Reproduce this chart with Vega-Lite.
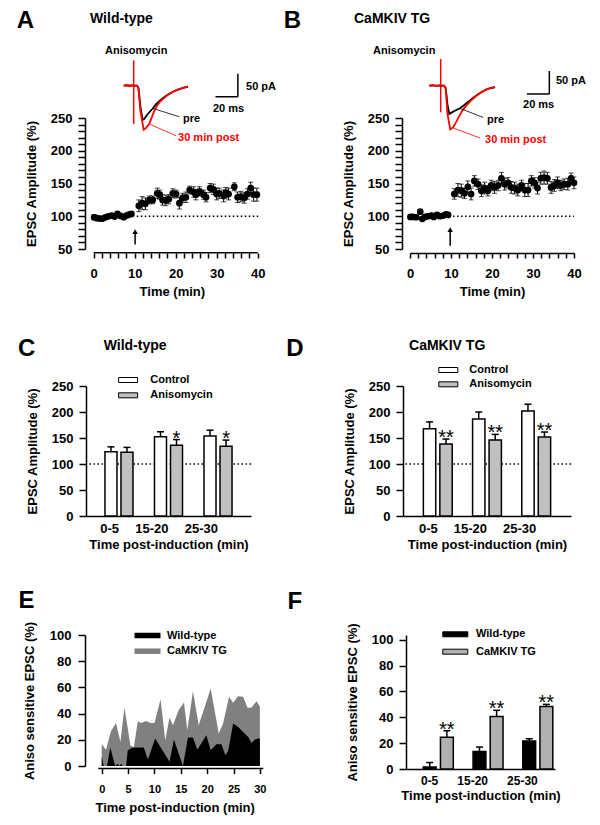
{
  "$schema": "https://vega.github.io/schema/vega-lite/v6.json",
  "padding": {"left": 16, "top": 8, "right": 0, "bottom": 0},
  "config": {
    "font": "Liberation Sans",
    "view": {"stroke": null},
    "axis": {"grid": false, "domainColor": "black", "domainWidth": 1.5, "tickColor": "black", "tickWidth": 1.5, "labelColor": "black", "labelFontWeight": "bold", "labelFontSize": 13, "titleFontWeight": "bold", "titleFontSize": 13, "titleColor": "black", "labelFont": "Liberation Sans", "titleFont": "Liberation Sans", "labelOverlap": false, "labelFlush": false, "labelBound": false},
    "legend": {"labelFont": "Liberation Sans", "labelFontWeight": "bold", "labelFontSize": 11, "labelColor": "black", "padding": 0},
    "text": {"font": "Liberation Sans", "color": "black"}
  },
  "datasets": {
    "tcWT": [
      {"t": 0.1, "m": 98.5, "s": 4}, {"t": 0.8, "m": 97, "s": 3}, {"t": 1.5, "m": 96.5, "s": 3}, {"t": 2.2, "m": 96.5, "s": 3}, {"t": 2.9, "m": 98.5, "s": 3}, {"t": 3.6, "m": 100, "s": 3}, {"t": 4.4, "m": 101, "s": 3}, {"t": 5.1, "m": 99.5, "s": 3}, {"t": 5.8, "m": 103.5, "s": 3}, {"t": 6.6, "m": 100.5, "s": 3}, {"t": 7.3, "m": 98.5, "s": 3}, {"t": 8.0, "m": 101, "s": 3}, {"t": 8.6, "m": 102.5, "s": 3}, {"t": 9.2, "m": 103.5, "s": 3},
      {"t": 11.0, "m": 116, "s": 9}, {"t": 11.8, "m": 120, "s": 10}, {"t": 12.6, "m": 119, "s": 9}, {"t": 13.6, "m": 125, "s": 6}, {"t": 14.4, "m": 125, "s": 6}, {"t": 15.5, "m": 135, "s": 8}, {"t": 16.1, "m": 133, "s": 7}, {"t": 16.8, "m": 125, "s": 8}, {"t": 17.6, "m": 124, "s": 8}, {"t": 18.3, "m": 126, "s": 7}, {"t": 19.3, "m": 135, "s": 7}, {"t": 20.1, "m": 134, "s": 6}, {"t": 20.9, "m": 120, "s": 9}, {"t": 21.7, "m": 128, "s": 7}, {"t": 22.5, "m": 129, "s": 8}, {"t": 23.4, "m": 140, "s": 6}, {"t": 24.4, "m": 137, "s": 8}, {"t": 24.9, "m": 133, "s": 8}, {"t": 25.8, "m": 138, "s": 7}, {"t": 26.8, "m": 133, "s": 7}, {"t": 27.4, "m": 129, "s": 7}, {"t": 28.4, "m": 143, "s": 7}, {"t": 29.2, "m": 141, "s": 8}, {"t": 30.0, "m": 134, "s": 9}, {"t": 30.6, "m": 135, "s": 8}, {"t": 31.7, "m": 131, "s": 9}, {"t": 32.2, "m": 136, "s": 8}, {"t": 32.9, "m": 134, "s": 9}, {"t": 34.3, "m": 145, "s": 6}, {"t": 35.1, "m": 129, "s": 8}, {"t": 35.9, "m": 130, "s": 8}, {"t": 36.7, "m": 128, "s": 8}, {"t": 37.5, "m": 134, "s": 8}, {"t": 38.3, "m": 143, "s": 9}, {"t": 39.0, "m": 133, "s": 10}, {"t": 39.8, "m": 133, "s": 10}
    ],
    "tcTG": [
      {"t": 0.1, "m": 99, "s": 3}, {"t": 0.7, "m": 99, "s": 3}, {"t": 1.5, "m": 98.5, "s": 3}, {"t": 2.5, "m": 107, "s": 3}, {"t": 3.0, "m": 96, "s": 3}, {"t": 3.7, "m": 99, "s": 3}, {"t": 4.4, "m": 100, "s": 3}, {"t": 5.2, "m": 101, "s": 3}, {"t": 5.8, "m": 99, "s": 3}, {"t": 6.6, "m": 102, "s": 3}, {"t": 7.3, "m": 100, "s": 3}, {"t": 8.1, "m": 101, "s": 3}, {"t": 8.8, "m": 103, "s": 3}, {"t": 9.3, "m": 102, "s": 3},
      {"t": 10.8, "m": 134, "s": 8}, {"t": 11.7, "m": 140, "s": 10}, {"t": 12.5, "m": 139, "s": 10}, {"t": 13.3, "m": 135, "s": 8}, {"t": 14.1, "m": 145, "s": 9}, {"t": 14.9, "m": 134, "s": 9}, {"t": 15.7, "m": 154, "s": 8}, {"t": 16.6, "m": 149, "s": 8}, {"t": 17.4, "m": 139, "s": 9}, {"t": 18.2, "m": 143, "s": 9}, {"t": 19.0, "m": 139, "s": 8}, {"t": 19.8, "m": 147, "s": 8}, {"t": 20.6, "m": 144, "s": 9}, {"t": 21.5, "m": 147, "s": 8}, {"t": 22.3, "m": 158, "s": 9}, {"t": 23.1, "m": 149, "s": 9}, {"t": 23.9, "m": 151, "s": 8}, {"t": 24.7, "m": 144, "s": 9}, {"t": 25.5, "m": 143, "s": 9}, {"t": 26.3, "m": 140, "s": 9}, {"t": 27.2, "m": 147, "s": 8}, {"t": 28.0, "m": 140, "s": 10}, {"t": 28.8, "m": 140, "s": 10}, {"t": 29.6, "m": 154, "s": 8}, {"t": 30.4, "m": 151, "s": 8}, {"t": 31.1, "m": 143, "s": 9}, {"t": 31.9, "m": 158, "s": 9}, {"t": 32.7, "m": 159, "s": 10}, {"t": 33.5, "m": 158, "s": 9}, {"t": 34.4, "m": 144, "s": 9}, {"t": 35.2, "m": 147, "s": 9}, {"t": 36.0, "m": 151, "s": 9}, {"t": 36.8, "m": 147, "s": 8}, {"t": 37.6, "m": 149, "s": 8}, {"t": 38.5, "m": 149, "s": 9}, {"t": 39.3, "m": 158, "s": 8}, {"t": 40.0, "m": 151, "s": 9}
    ],
    "trWT": [
      {"ms": -8.9, "pA": 0, "rec": "pre"}, {"ms": -4, "pA": 0.5, "rec": "pre"}, {"ms": 0, "pA": 0, "rec": "pre"}, {"ms": 3, "pA": 0, "rec": "pre"}, {"ms": 4.2, "pA": -4, "rec": "pre"}, {"ms": 6, "pA": -45, "rec": "pre"}, {"ms": 8, "pA": -74.6, "rec": "pre"}, {"ms": 9.5, "pA": -72, "rec": "pre"}, {"ms": 12, "pA": -63, "rec": "pre"}, {"ms": 15, "pA": -55, "rec": "pre"}, {"ms": 17, "pA": -49.5, "rec": "pre"}, {"ms": 20, "pA": -40, "rec": "pre"}, {"ms": 23, "pA": -33, "rec": "pre"}, {"ms": 26, "pA": -27, "rec": "pre"}, {"ms": 30, "pA": -20, "rec": "pre"}, {"ms": 35, "pA": -13, "rec": "pre"}, {"ms": 40, "pA": -8, "rec": "pre"}, {"ms": 45, "pA": -4, "rec": "pre"}, {"ms": 48.5, "pA": -2, "rec": "pre"},
      {"ms": -8.9, "pA": 0, "rec": "post"}, {"ms": -6, "pA": 1.5, "rec": "post"}, {"ms": -4, "pA": -1, "rec": "post"}, {"ms": -2, "pA": 1, "rec": "post"}, {"ms": 0, "pA": 0, "rec": "post"}, {"ms": 3, "pA": 0, "rec": "post"}, {"ms": 4.2, "pA": -5, "rec": "post"}, {"ms": 6, "pA": -55, "rec": "post"}, {"ms": 8.9, "pA": -95.7, "rec": "post"}, {"ms": 10.5, "pA": -93, "rec": "post"}, {"ms": 13.9, "pA": -83, "rec": "post"}, {"ms": 16, "pA": -70, "rec": "post"}, {"ms": 18, "pA": -57, "rec": "post"}, {"ms": 20, "pA": -47, "rec": "post"}, {"ms": 23, "pA": -36, "rec": "post"}, {"ms": 26, "pA": -29, "rec": "post"}, {"ms": 30, "pA": -21, "rec": "post"}, {"ms": 35, "pA": -13, "rec": "post"}, {"ms": 40, "pA": -8, "rec": "post"}, {"ms": 45, "pA": -4, "rec": "post"}, {"ms": 48.5, "pA": -2, "rec": "post"}
    ],
    "trTG": [
      {"ms": -10.2, "pA": 0, "rec": "pre"}, {"ms": -5, "pA": 0, "rec": "pre"}, {"ms": 0, "pA": 0, "rec": "pre"}, {"ms": 3, "pA": 0, "rec": "pre"}, {"ms": 4.5, "pA": -5, "rec": "pre"}, {"ms": 6, "pA": -40, "rec": "pre"}, {"ms": 7.7, "pA": -61.5, "rec": "pre"}, {"ms": 10, "pA": -58, "rec": "pre"}, {"ms": 13, "pA": -54, "rec": "pre"}, {"ms": 17.2, "pA": -49, "rec": "pre"}, {"ms": 21, "pA": -42, "rec": "pre"}, {"ms": 25, "pA": -34, "rec": "pre"}, {"ms": 29, "pA": -26, "rec": "pre"}, {"ms": 33, "pA": -19, "rec": "pre"}, {"ms": 37, "pA": -13, "rec": "pre"}, {"ms": 41, "pA": -8, "rec": "pre"}, {"ms": 45, "pA": -5, "rec": "pre"}, {"ms": 48.5, "pA": -3, "rec": "pre"},
      {"ms": -10.2, "pA": 0, "rec": "post"}, {"ms": -7, "pA": 1.5, "rec": "post"}, {"ms": -4, "pA": -1, "rec": "post"}, {"ms": -1, "pA": 1, "rec": "post"}, {"ms": 0, "pA": 0, "rec": "post"}, {"ms": 3, "pA": 0, "rec": "post"}, {"ms": 4.5, "pA": -6, "rec": "post"}, {"ms": 6, "pA": -60, "rec": "post"}, {"ms": 8.5, "pA": -95, "rec": "post"}, {"ms": 11.25, "pA": -90, "rec": "post"}, {"ms": 14, "pA": -78, "rec": "post"}, {"ms": 17, "pA": -64, "rec": "post"}, {"ms": 20, "pA": -52, "rec": "post"}, {"ms": 24, "pA": -40, "rec": "post"}, {"ms": 28, "pA": -30, "rec": "post"}, {"ms": 32, "pA": -22, "rec": "post"}, {"ms": 36, "pA": -15, "rec": "post"}, {"ms": 40, "pA": -9, "rec": "post"}, {"ms": 44, "pA": -5, "rec": "post"}, {"ms": 48.5, "pA": -3, "rec": "post"}
    ],
    "barsWT": [
      {"period": "0-5", "cond": "Control", "mean": 123.6, "err": 133, "sig": ""},
      {"period": "0-5", "cond": "Anisomycin", "mean": 122.4, "err": 132, "sig": ""},
      {"period": "15-20", "cond": "Control", "mean": 152.5, "err": 162, "sig": ""},
      {"period": "15-20", "cond": "Anisomycin", "mean": 136, "err": 147, "sig": "*"},
      {"period": "25-30", "cond": "Control", "mean": 154, "err": 165, "sig": ""},
      {"period": "25-30", "cond": "Anisomycin", "mean": 134, "err": 146, "sig": "*"}
    ],
    "barsTG": [
      {"period": "0-5", "cond": "Control", "mean": 168, "err": 181, "sig": ""},
      {"period": "0-5", "cond": "Anisomycin", "mean": 138.5, "err": 148, "sig": "**"},
      {"period": "15-20", "cond": "Control", "mean": 186.5, "err": 200, "sig": ""},
      {"period": "15-20", "cond": "Anisomycin", "mean": 146, "err": 157, "sig": "**"},
      {"period": "25-30", "cond": "Control", "mean": 202, "err": 215, "sig": ""},
      {"period": "25-30", "cond": "Anisomycin", "mean": 152, "err": 161.5, "sig": "**"}
    ],
    "anisoTC": [
      {"t": 0, "v": 16.6, "geno": "CaMKIV TG"}, {"t": 0.82, "v": 12.5, "geno": "CaMKIV TG"}, {"t": 1.77, "v": 26.8, "geno": "CaMKIV TG"}, {"t": 2.72, "v": 32.9, "geno": "CaMKIV TG"}, {"t": 3.55, "v": 18.4, "geno": "CaMKIV TG"}, {"t": 4.31, "v": 44.7, "geno": "CaMKIV TG"}, {"t": 5.45, "v": 15.8, "geno": "CaMKIV TG"}, {"t": 6.08, "v": 14.2, "geno": "CaMKIV TG"}, {"t": 6.85, "v": 34.2, "geno": "CaMKIV TG"}, {"t": 7.48, "v": 32.9, "geno": "CaMKIV TG"}, {"t": 8.43, "v": 34.4, "geno": "CaMKIV TG"}, {"t": 9.26, "v": 32.9, "geno": "CaMKIV TG"}, {"t": 10.02, "v": 32.9, "geno": "CaMKIV TG"}, {"t": 11.16, "v": 51, "geno": "CaMKIV TG"}, {"t": 12.05, "v": 19.7, "geno": "CaMKIV TG"}, {"t": 12.87, "v": 37, "geno": "CaMKIV TG"}, {"t": 13.51, "v": 31.1, "geno": "CaMKIV TG"}, {"t": 14.59, "v": 42.6, "geno": "CaMKIV TG"}, {"t": 15.6, "v": 48.5, "geno": "CaMKIV TG"}, {"t": 16.24, "v": 27.3, "geno": "CaMKIV TG"}, {"t": 17.31, "v": 57.2, "geno": "CaMKIV TG"}, {"t": 18.39, "v": 31.1, "geno": "CaMKIV TG"}, {"t": 19.22, "v": 41.3, "geno": "CaMKIV TG"}, {"t": 20.67, "v": 59.2, "geno": "CaMKIV TG"}, {"t": 22.2, "v": 24.8, "geno": "CaMKIV TG"}, {"t": 23.02, "v": 32.4, "geno": "CaMKIV TG"}, {"t": 24.16, "v": 52.8, "geno": "CaMKIV TG"}, {"t": 24.93, "v": 48.2, "geno": "CaMKIV TG"}, {"t": 25.88, "v": 53.3, "geno": "CaMKIV TG"}, {"t": 26.83, "v": 52.8, "geno": "CaMKIV TG"}, {"t": 27.66, "v": 44.4, "geno": "CaMKIV TG"}, {"t": 28.42, "v": 44.6, "geno": "CaMKIV TG"}, {"t": 29.37, "v": 49.5, "geno": "CaMKIV TG"}, {"t": 30, "v": 45.2, "geno": "CaMKIV TG"},
      {"t": 0, "v": 7.4, "geno": "Wild-type"}, {"t": 0.4, "v": 0, "geno": "Wild-type"}, {"t": 1.0, "v": 0, "geno": "Wild-type"}, {"t": 1.64, "v": 14.1, "geno": "Wild-type"}, {"t": 2.53, "v": 0, "geno": "Wild-type"}, {"t": 3.04, "v": 1.8, "geno": "Wild-type"}, {"t": 3.36, "v": 0, "geno": "Wild-type"}, {"t": 3.67, "v": 1.8, "geno": "Wild-type"}, {"t": 3.99, "v": 0, "geno": "Wild-type"}, {"t": 4.62, "v": 0, "geno": "Wild-type"}, {"t": 4.94, "v": 12, "geno": "Wild-type"}, {"t": 5.89, "v": 14.1, "geno": "Wild-type"}, {"t": 7.98, "v": 14.1, "geno": "Wild-type"}, {"t": 8.75, "v": 4.9, "geno": "Wild-type"}, {"t": 10.14, "v": 21, "geno": "Wild-type"}, {"t": 12.87, "v": 3.3, "geno": "Wild-type"}, {"t": 13.7, "v": 20.2, "geno": "Wild-type"}, {"t": 15.41, "v": 0, "geno": "Wild-type"}, {"t": 16.36, "v": 21.7, "geno": "Wild-type"}, {"t": 17.31, "v": 21.7, "geno": "Wild-type"}, {"t": 18.14, "v": 12.5, "geno": "Wild-type"}, {"t": 19.85, "v": 23.5, "geno": "Wild-type"}, {"t": 20.67, "v": 12, "geno": "Wild-type"}, {"t": 21.75, "v": 16.6, "geno": "Wild-type"}, {"t": 22.71, "v": 16.6, "geno": "Wild-type"}, {"t": 23.47, "v": 8.2, "geno": "Wild-type"}, {"t": 23.98, "v": 11.5, "geno": "Wild-type"}, {"t": 24.93, "v": 32.4, "geno": "Wild-type"}, {"t": 25.88, "v": 29.8, "geno": "Wild-type"}, {"t": 26.83, "v": 26, "geno": "Wild-type"}, {"t": 27.78, "v": 22.2, "geno": "Wild-type"}, {"t": 28.42, "v": 17.6, "geno": "Wild-type"}, {"t": 29.05, "v": 20.2, "geno": "Wild-type"}, {"t": 29.69, "v": 21, "geno": "Wild-type"}, {"t": 30, "v": 21, "geno": "Wild-type"}
    ],
    "anisoBars": [
      {"period": "0-5", "geno": "Wild-type", "mean": 1.5, "err": 5, "sig": ""},
      {"period": "0-5", "geno": "CaMKIV TG", "mean": 24.5, "err": 29.6, "sig": "**"},
      {"period": "15-20", "geno": "Wild-type", "mean": 13.6, "err": 17, "sig": ""},
      {"period": "15-20", "geno": "CaMKIV TG", "mean": 40.7, "err": 45.4, "sig": "**"},
      {"period": "25-30", "geno": "Wild-type", "mean": 21.6, "err": 23.4, "sig": ""},
      {"period": "25-30", "geno": "CaMKIV TG", "mean": 48.4, "err": 50, "sig": "**"}
    ]
  },
  "columns": 1,
  "align": "none",
  "spacing": 38,
  "resolve": {"scale": {"fill": "independent", "color": "independent", "xOffset": "independent"}, "legend": {"fill": "independent", "color": "independent"}},
  "concat": [
    {
      "columns": 2, "align": "none", "spacing": 7,
      "resolve": {"scale": {"fill": "independent", "color": "independent", "xOffset": "independent"}, "legend": {"fill": "independent", "color": "independent"}},
      "concat": [
        {
          "width": 171.7, "height": 131,
          "resolve": {"scale": {"x": "independent", "y": "independent"}},
          "layer": [
            {
              "layer": [
                {"data": {"values": [{"t1": 10.5, "t2": 40.5, "v": 100}]}, "mark": {"type": "rule", "strokeDash": [1.5, 2.5], "strokeWidth": 1.3, "color": "black"},
                 "encoding": {
                   "x": {"field": "t1", "type": "quantitative", "title": "Time (min)", "scale": {"domain": [-1.878, 40], "nice": false, "zero": false},
                         "axis": {"title": "Time (min)", "domain": false, "format": "d", "values": [0,2,4,6,8,10,12,14,16,18,20,22,24,26,28,30,32,34,36,38,40], "tickCount": 100, "labelExpr": "datum.value % 10 === 0 ? datum.label : ''", "tickSize": 5, "labelPadding": 9, "offset": 4, "titlePadding": 5, "labelFlush": false, "labelOverlap": false, "labelFontSize": 13}},
                   "x2": {"field": "t2"},
                   "y": {"field": "v", "type": "quantitative", "title": "EPSC Amplitude (%)", "scale": {"domain": [50, 250], "nice": false, "zero": false},
                         "axis": {"title": "EPSC Amplitude (%)", "format": "d", "values": [50,60,70,80,90,100,110,120,130,140,150,160,170,180,190,200,210,220,230,240,250], "tickCount": 100, "labelExpr": "datum.value % 50 === 0 ? datum.label : ''", "tickSize": 7, "labelPadding": 6, "offset": 1, "titlePadding": 12, "labelOverlap": false, "labelFontSize": 13}}
                 }},
                {"data": {"values": [{"t1": 0, "t2": 40, "v": 44.2}]}, "mark": {"type": "rule", "strokeWidth": 1.5, "color": "black"},
                 "encoding": {"x": {"field": "t1", "type": "quantitative", "title": "Time (min)", "scale": {"domain": [-1.878, 40], "nice": false}}, "x2": {"field": "t2"}, "y": {"field": "v", "type": "quantitative", "title": "EPSC Amplitude (%)", "scale": {"domain": [50, 250], "nice": false}}}},
                {"data": {"name": "tcWT"}, "mark": {"type": "errorbar", "ticks": true, "size": 5, "thickness": 1, "color": "black"},
                 "encoding": {"x": {"field": "t", "type": "quantitative", "title": "Time (min)", "scale": {"domain": [-1.878, 40], "nice": false}}, "y": {"field": "m", "type": "quantitative", "title": "EPSC Amplitude (%)", "scale": {"domain": [50, 250], "nice": false}}, "yError": {"field": "s"}}},
                {"data": {"name": "tcWT"}, "mark": {"type": "point", "filled": true, "size": 45, "color": "black", "opacity": 1},
                 "encoding": {"x": {"field": "t", "type": "quantitative", "title": "Time (min)", "scale": {"domain": [-1.878, 40], "nice": false}}, "y": {"field": "m", "type": "quantitative", "title": "EPSC Amplitude (%)", "scale": {"domain": [50, 250], "nice": false}}}},
                {"data": {"values": [{"t": 10.1, "lo": 57, "hi": 76}]}, "mark": {"type": "rule", "strokeWidth": 1.5, "color": "black"},
                 "encoding": {"x": {"field": "t", "type": "quantitative", "title": "Time (min)", "scale": {"domain": [-1.878, 40], "nice": false}}, "y": {"field": "lo", "type": "quantitative", "title": "EPSC Amplitude (%)", "scale": {"domain": [50, 250], "nice": false}}, "y2": {"field": "hi"}}},
                {"data": {"values": [{"t": 10.1, "tip": 76.5}]}, "mark": {"type": "point", "shape": "triangle-up", "filled": true, "size": 30, "color": "black", "opacity": 1},
                 "encoding": {"x": {"field": "t", "type": "quantitative", "title": "Time (min)", "scale": {"domain": [-1.878, 40], "nice": false}}, "y": {"field": "tip", "type": "quantitative", "title": "EPSC Amplitude (%)", "scale": {"domain": [50, 250], "nice": false}}}}
              ]
            },
            {
              "layer": [
                {"data": {"values": [{"ms": 0, "p1": 55, "p2": -83}]}, "mark": {"type": "rule", "color": "red", "strokeWidth": 1.5},
                 "encoding": {"x": {"field": "ms", "type": "quantitative", "scale": {"domain": [-42.59, 110.71], "nice": false, "zero": false}, "axis": null}, "y": {"field": "p1", "type": "quantitative", "scale": {"domain": [-355, -70.2], "nice": false, "zero": false}, "axis": null}, "y2": {"field": "p2"}}},
                {"data": {"name": "trWT"}, "transform": [{"filter": "datum.rec === 'pre'"}], "mark": {"type": "line", "color": "black", "strokeWidth": 1.8},
                 "encoding": {"x": {"field": "ms", "type": "quantitative"}, "y": {"field": "pA", "type": "quantitative"}}},
                {"data": {"name": "trWT"}, "transform": [{"filter": "datum.rec === 'post'"}], "mark": {"type": "line", "color": "red", "strokeWidth": 1.8},
                 "encoding": {"x": {"field": "ms", "type": "quantitative"}, "y": {"field": "pA", "type": "quantitative"}}},
                {"data": {"values": [{"x1": 93, "y1": -24, "x2": 93, "y2": 26}, {"x1": 73, "y1": -24, "x2": 93, "y2": -24}]}, "mark": {"type": "rule", "color": "black", "strokeWidth": 1.5},
                 "encoding": {"x": {"field": "x1", "type": "quantitative"}, "x2": {"field": "x2"}, "y": {"field": "y1", "type": "quantitative"}, "y2": {"field": "y2"}}},
                {"data": {"values": [{"x1": 17, "y1": -49.3, "x2": 40.7, "y2": -67.4}]}, "mark": {"type": "rule", "color": "black", "strokeWidth": 0.8},
                 "encoding": {"x": {"field": "x1", "type": "quantitative"}, "x2": {"field": "x2"}, "y": {"field": "y1", "type": "quantitative"}, "y2": {"field": "y2"}}},
                {"data": {"values": [{"x1": 13.9, "y1": -83.3, "x2": 37.8, "y2": -108.7}]}, "mark": {"type": "rule", "color": "red", "strokeWidth": 0.8},
                 "encoding": {"x": {"field": "x1", "type": "quantitative"}, "x2": {"field": "x2"}, "y": {"field": "y1", "type": "quantitative"}, "y2": {"field": "y2"}}},
                {"data": {"values": [{"ms": -96.6, "pA": 141.3, "label": "A"}]}, "mark": {"type": "text", "fontSize": 24, "fontWeight": "bold", "align": "center", "baseline": "middle"},
                 "encoding": {"x": {"field": "ms", "type": "quantitative"}, "y": {"field": "pA", "type": "quantitative"}, "text": {"field": "label"}}},
                {"data": {"values": [{"ms": -39, "pA": 145.7, "label": "Wild-type"}]}, "mark": {"type": "text", "fontSize": 14, "fontWeight": "bold", "align": "left", "baseline": "middle"},
                 "encoding": {"x": {"field": "ms", "type": "quantitative"}, "y": {"field": "pA", "type": "quantitative"}, "text": {"field": "label"}}},
                {"data": {"values": [{"ms": -25.6, "pA": 76.1, "label": "Anisomycin"}, {"ms": 100.3, "pA": -3.7, "label": "50 pA"}, {"ms": 70.8, "pA": -50, "label": "20 ms"}, {"ms": 44, "pA": -71.7, "label": "pre"}]},
                 "mark": {"type": "text", "fontSize": 11, "fontWeight": "bold", "align": "left", "baseline": "middle"},
                 "encoding": {"x": {"field": "ms", "type": "quantitative"}, "y": {"field": "pA", "type": "quantitative"}, "text": {"field": "label"}}},
                {"data": {"values": [{"ms": 39.6, "pA": -114.6, "label": "30 min post"}]}, "mark": {"type": "text", "fontSize": 11, "fontWeight": "bold", "align": "left", "baseline": "middle", "color": "red"},
                 "encoding": {"x": {"field": "ms", "type": "quantitative"}, "y": {"field": "pA", "type": "quantitative"}, "text": {"field": "label"}}}
              ]
            }
          ]
        },
        {
          "width": 164, "height": 131,
          "resolve": {"scale": {"x": "independent", "y": "independent"}},
          "layer": [
            {
              "layer": [
                {"data": {"values": [{"t1": 10.5, "t2": 40, "v": 100}]}, "mark": {"type": "rule", "strokeDash": [1.5, 2.5], "strokeWidth": 1.3, "color": "black"},
                 "encoding": {
                   "x": {"field": "t1", "type": "quantitative", "title": "Time (min)", "scale": {"domain": [0, 40], "nice": false, "zero": false},
                         "axis": {"title": "Time (min)", "format": "d", "values": [0,2,4,6,8,10,12,14,16,18,20,22,24,26,28,30,32,34,36,38,40], "tickCount": 100, "labelExpr": "datum.value % 10 === 0 ? datum.label : ''", "tickSize": 5, "labelPadding": 9, "offset": 4, "titlePadding": 5, "labelFlush": false, "labelOverlap": false, "labelFontSize": 13}},
                   "x2": {"field": "t2"},
                   "y": {"field": "v", "type": "quantitative", "title": "EPSC Amplitude (%)", "scale": {"domain": [50, 250], "nice": false, "zero": false},
                         "axis": {"title": "EPSC Amplitude (%)", "format": "d", "values": [50,60,70,80,90,100,110,120,130,140,150,160,170,180,190,200,210,220,230,240,250], "tickCount": 100, "labelExpr": "datum.value % 50 === 0 ? datum.label : ''", "tickSize": 7, "labelPadding": 6, "offset": 8, "titlePadding": 12, "labelOverlap": false, "labelFontSize": 13}}
                 }},
                {"data": {"name": "tcTG"}, "mark": {"type": "errorbar", "ticks": true, "size": 5, "thickness": 1, "color": "black"},
                 "encoding": {"x": {"field": "t", "type": "quantitative", "title": "Time (min)", "scale": {"domain": [0, 40], "nice": false}}, "y": {"field": "m", "type": "quantitative", "title": "EPSC Amplitude (%)", "scale": {"domain": [50, 250], "nice": false}}, "yError": {"field": "s"}}},
                {"data": {"name": "tcTG"}, "mark": {"type": "point", "filled": true, "size": 45, "color": "black", "opacity": 1},
                 "encoding": {"x": {"field": "t", "type": "quantitative", "title": "Time (min)", "scale": {"domain": [0, 40], "nice": false}}, "y": {"field": "m", "type": "quantitative", "title": "EPSC Amplitude (%)", "scale": {"domain": [50, 250], "nice": false}}}},
                {"data": {"values": [{"t": 9.8, "lo": 55, "hi": 79}]}, "mark": {"type": "rule", "strokeWidth": 1.5, "color": "black"},
                 "encoding": {"x": {"field": "t", "type": "quantitative", "title": "Time (min)", "scale": {"domain": [0, 40], "nice": false}}, "y": {"field": "lo", "type": "quantitative", "title": "EPSC Amplitude (%)", "scale": {"domain": [50, 250], "nice": false}}, "y2": {"field": "hi"}}},
                {"data": {"values": [{"t": 9.8, "tip": 79.5}]}, "mark": {"type": "point", "shape": "triangle-up", "filled": true, "size": 30, "color": "black", "opacity": 1},
                 "encoding": {"x": {"field": "t", "type": "quantitative", "title": "Time (min)", "scale": {"domain": [0, 40], "nice": false}}, "y": {"field": "tip", "type": "quantitative", "title": "EPSC Amplitude (%)", "scale": {"domain": [50, 250], "nice": false}}}}
              ]
            },
            {
              "layer": [
                {"data": {"values": [{"ms": 0, "p1": 58, "p2": -58}]}, "mark": {"type": "rule", "color": "red", "strokeWidth": 1.5},
                 "encoding": {"x": {"field": "ms", "type": "quantitative", "scale": {"domain": [-27.41, 119.02], "nice": false, "zero": false}, "axis": null}, "y": {"field": "p1", "type": "quantitative", "scale": {"domain": [-355, -70.2], "nice": false, "zero": false}, "axis": null}, "y2": {"field": "p2"}}},
                {"data": {"name": "trTG"}, "transform": [{"filter": "datum.rec === 'pre'"}], "mark": {"type": "line", "color": "black", "strokeWidth": 1.8},
                 "encoding": {"x": {"field": "ms", "type": "quantitative"}, "y": {"field": "pA", "type": "quantitative"}}},
                {"data": {"name": "trTG"}, "transform": [{"filter": "datum.rec === 'post'"}], "mark": {"type": "line", "color": "red", "strokeWidth": 1.8},
                 "encoding": {"x": {"field": "ms", "type": "quantitative"}, "y": {"field": "pA", "type": "quantitative"}}},
                {"data": {"values": [{"x1": 97, "y1": -18, "x2": 97, "y2": 32}, {"x1": 77, "y1": -18, "x2": 97, "y2": -18}]}, "mark": {"type": "rule", "color": "black", "strokeWidth": 1.5},
                 "encoding": {"x": {"field": "x1", "type": "quantitative"}, "x2": {"field": "x2"}, "y": {"field": "y1", "type": "quantitative"}, "y2": {"field": "y2"}}},
                {"data": {"values": [{"x1": 17.2, "y1": -49.3, "x2": 38, "y2": -68.9}]}, "mark": {"type": "rule", "color": "black", "strokeWidth": 0.8},
                 "encoding": {"x": {"field": "x1", "type": "quantitative"}, "x2": {"field": "x2"}, "y": {"field": "y1", "type": "quantitative"}, "y2": {"field": "y2"}}},
                {"data": {"values": [{"x1": 11.25, "y1": -92, "x2": 35.1, "y2": -113.7}]}, "mark": {"type": "rule", "color": "red", "strokeWidth": 0.8},
                 "encoding": {"x": {"field": "x1", "type": "quantitative"}, "x2": {"field": "x2"}, "y": {"field": "y1", "type": "quantitative"}, "y2": {"field": "y2"}}},
                {"data": {"values": [{"ms": -132.3, "pA": 141.3, "label": "B"}]}, "mark": {"type": "text", "fontSize": 24, "fontWeight": "bold", "align": "center", "baseline": "middle"},
                 "encoding": {"x": {"field": "ms", "type": "quantitative"}, "y": {"field": "pA", "type": "quantitative"}, "text": {"field": "label"}}},
                {"data": {"values": [{"ms": -77.4, "pA": 145.7, "label": "CaMKIV TG"}]}, "mark": {"type": "text", "fontSize": 14, "fontWeight": "bold", "align": "left", "baseline": "middle"},
                 "encoding": {"x": {"field": "ms", "type": "quantitative"}, "y": {"field": "pA", "type": "quantitative"}, "text": {"field": "label"}}},
                {"data": {"values": [{"ms": -60.4, "pA": 76.1, "label": "Anisomycin"}, {"ms": 102.9, "pA": 10.9, "label": "50 pA"}, {"ms": 73.5, "pA": -41.3, "label": "20 ms"}, {"ms": 41.3, "pA": -73.9, "label": "pre"}]},
                 "mark": {"type": "text", "fontSize": 11, "fontWeight": "bold", "align": "left", "baseline": "middle"},
                 "encoding": {"x": {"field": "ms", "type": "quantitative"}, "y": {"field": "pA", "type": "quantitative"}, "text": {"field": "label"}}},
                {"data": {"values": [{"ms": 39.6, "pA": -117.4, "label": "30 min post"}]}, "mark": {"type": "text", "fontSize": 11, "fontWeight": "bold", "align": "left", "baseline": "middle", "color": "red"},
                 "encoding": {"x": {"field": "ms", "type": "quantitative"}, "y": {"field": "pA", "type": "quantitative"}, "text": {"field": "label"}}}
              ]
            }
          ]
        }
      ]
    },
    {
      "columns": 2, "align": "none", "spacing": 34,
      "resolve": {"scale": {"fill": "independent", "color": "independent", "xOffset": "independent"}, "legend": {"fill": "independent", "color": "independent"}},
      "concat": [
        {
          "width": 165, "height": 130,
          "resolve": {"scale": {"x": "independent"}},
          "layer": [
            {
              "layer": [
                {"data": {"values": [{"v": 100}]}, "mark": {"type": "rule", "strokeDash": [1.5, 2.5], "strokeWidth": 1.3, "color": "black"},
                 "encoding": {"y": {"field": "v", "type": "quantitative", "title": "EPSC Amplitude (%)", "scale": {"domain": [0, 250], "nice": false}}}},
                {"data": {"name": "barsWT"}, "mark": {"type": "rule", "color": "black", "strokeWidth": 1.5},
                 "encoding": {"x": {"field": "period", "type": "nominal", "sort": null, "title": "Time post-induction (min)", "scale": {"domain": ["0-5", "15-20", "25-30"], "paddingInner": 0.434, "paddingOuter": 0.383}},
                              "xOffset": {"field": "cond", "type": "nominal", "sort": null, "scale": {"domain": ["Control", "Anisomycin"], "paddingInner": 0.25, "paddingOuter": 0}},
                              "y": {"field": "mean", "type": "quantitative", "title": "EPSC Amplitude (%)", "scale": {"domain": [0, 250], "nice": false}}, "y2": {"field": "err"}}},
                {"data": {"name": "barsWT"}, "mark": {"type": "point", "shape": "stroke", "size": 49, "color": "black", "strokeWidth": 1.5, "opacity": 1},
                 "encoding": {"x": {"field": "period", "type": "nominal", "sort": null, "title": "Time post-induction (min)"}, "xOffset": {"field": "cond", "type": "nominal", "sort": null},
                              "y": {"field": "err", "type": "quantitative", "title": "EPSC Amplitude (%)", "scale": {"domain": [0, 250], "nice": false}}}},
                {"data": {"name": "barsWT"}, "mark": {"type": "bar", "stroke": "black", "strokeWidth": 1.5},
                 "encoding": {"x": {"field": "period", "type": "nominal", "sort": null, "title": "Time post-induction (min)", "axis": {"title": "Time post-induction (min)", "ticks": false, "tickSize": 0, "labelPadding": 12, "labelAngle": 0, "titlePadding": 3, "labelFontSize": 13}},
                              "xOffset": {"field": "cond", "type": "nominal", "sort": null},
                              "y": {"field": "mean", "type": "quantitative", "title": "EPSC Amplitude (%)", "scale": {"domain": [0, 250], "nice": false}, "axis": {"title": "EPSC Amplitude (%)", "values": [0, 50, 100, 150, 200, 250], "tickCount": 100, "tickSize": 7, "labelPadding": 6, "titlePadding": 12, "labelOverlap": false, "labelFontSize": 13}},
                              "fill": {"field": "cond", "type": "nominal", "scale": {"domain": ["Control", "Anisomycin"], "range": ["#ffffff", "#c0c0c0"]},
                                       "legend": {"title": null, "orient": "none", "legendX": 36.6, "legendY": -11.5, "symbolType": "M-1.9,-0.5H1.9V0.5H-1.9Z", "symbolSize": 100, "symbolStrokeColor": "black", "symbolStrokeWidth": 1, "labelOffset": 16.7, "rowPadding": 3.3}}}},
                {"data": {"name": "barsWT"}, "transform": [{"filter": "datum.sig !== ''"}], "mark": {"type": "text", "fontSize": 20, "dy": 5, "baseline": "alphabetic", "align": "center"},
                 "encoding": {"x": {"field": "period", "type": "nominal", "sort": null, "title": "Time post-induction (min)"}, "xOffset": {"field": "cond", "type": "nominal", "sort": null},
                              "y": {"field": "err", "type": "quantitative", "title": "EPSC Amplitude (%)", "scale": {"domain": [0, 250], "nice": false}}, "text": {"field": "sig"}}}
              ]
            },
            {"data": {"values": [{"ax": -0.359, "ay": 322, "label": "C"}]}, "mark": {"type": "text", "fontSize": 24, "fontWeight": "bold", "align": "center", "baseline": "middle"},
             "encoding": {"x": {"field": "ax", "type": "quantitative", "scale": {"domain": [0, 1], "nice": false}, "axis": null}, "y": {"field": "ay", "type": "quantitative", "title": "EPSC Amplitude (%)", "scale": {"domain": [0, 250], "nice": false}}, "text": {"field": "label"}}},
            {"data": {"values": [{"ax": 0.107, "ay": 327, "label": "Wild-type"}]}, "mark": {"type": "text", "fontSize": 14, "fontWeight": "bold", "align": "left", "baseline": "middle"},
             "encoding": {"x": {"field": "ax", "type": "quantitative", "scale": {"domain": [0, 1], "nice": false}, "axis": null}, "y": {"field": "ay", "type": "quantitative", "title": "EPSC Amplitude (%)", "scale": {"domain": [0, 250], "nice": false}}, "text": {"field": "label"}}}
          ]
        },
        {
          "width": 168, "height": 130,
          "resolve": {"scale": {"x": "independent"}},
          "layer": [
            {
              "layer": [
                {"data": {"values": [{"v": 100}]}, "mark": {"type": "rule", "strokeDash": [1.5, 2.5], "strokeWidth": 1.3, "color": "black"},
                 "encoding": {"y": {"field": "v", "type": "quantitative", "title": "EPSC Amplitude (%)", "scale": {"domain": [0, 250], "nice": false}}}},
                {"data": {"name": "barsTG"}, "mark": {"type": "rule", "color": "black", "strokeWidth": 1.5},
                 "encoding": {"x": {"field": "period", "type": "nominal", "sort": null, "title": "Time post-induction (min)", "scale": {"domain": ["0-5", "15-20", "25-30"], "paddingInner": 0.414, "paddingOuter": 0.414}},
                              "xOffset": {"field": "cond", "type": "nominal", "sort": null, "scale": {"domain": ["Control", "Anisomycin"], "paddingInner": 0.25, "paddingOuter": 0}},
                              "y": {"field": "mean", "type": "quantitative", "title": "EPSC Amplitude (%)", "scale": {"domain": [0, 250], "nice": false}}, "y2": {"field": "err"}}},
                {"data": {"name": "barsTG"}, "mark": {"type": "point", "shape": "stroke", "size": 49, "color": "black", "strokeWidth": 1.5, "opacity": 1},
                 "encoding": {"x": {"field": "period", "type": "nominal", "sort": null, "title": "Time post-induction (min)"}, "xOffset": {"field": "cond", "type": "nominal", "sort": null},
                              "y": {"field": "err", "type": "quantitative", "title": "EPSC Amplitude (%)", "scale": {"domain": [0, 250], "nice": false}}}},
                {"data": {"name": "barsTG"}, "mark": {"type": "bar", "stroke": "black", "strokeWidth": 1.5},
                 "encoding": {"x": {"field": "period", "type": "nominal", "sort": null, "title": "Time post-induction (min)", "axis": {"title": "Time post-induction (min)", "ticks": false, "tickSize": 0, "labelPadding": 12, "labelAngle": 0, "titlePadding": 3, "labelFontSize": 13}},
                              "xOffset": {"field": "cond", "type": "nominal", "sort": null},
                              "y": {"field": "mean", "type": "quantitative", "title": "EPSC Amplitude (%)", "scale": {"domain": [0, 250], "nice": false}, "axis": {"title": "EPSC Amplitude (%)", "values": [0, 50, 100, 150, 200, 250], "tickCount": 100, "tickSize": 7, "labelPadding": 6, "titlePadding": 12, "labelOverlap": false, "labelFontSize": 13}},
                              "fill": {"field": "cond", "type": "nominal", "scale": {"domain": ["Control", "Anisomycin"], "range": ["#ffffff", "#c0c0c0"]},
                                       "legend": {"title": null, "orient": "none", "legendX": 39.8, "legendY": -21.5, "symbolType": "M-1.9,-0.5H1.9V0.5H-1.9Z", "symbolSize": 100, "symbolStrokeColor": "black", "symbolStrokeWidth": 1, "labelOffset": 15.5, "rowPadding": 2.3}}}},
                {"data": {"name": "barsTG"}, "transform": [{"filter": "datum.sig !== ''"}], "mark": {"type": "text", "fontSize": 20, "dy": 5, "baseline": "alphabetic", "align": "center"},
                 "encoding": {"x": {"field": "period", "type": "nominal", "sort": null, "title": "Time post-induction (min)"}, "xOffset": {"field": "cond", "type": "nominal", "sort": null},
                              "y": {"field": "err", "type": "quantitative", "title": "EPSC Amplitude (%)", "scale": {"domain": [0, 250], "nice": false}}, "text": {"field": "sig"}}}
              ]
            },
            {"data": {"values": [{"ax": -0.644, "ay": 322, "label": "D"}]}, "mark": {"type": "text", "fontSize": 24, "fontWeight": "bold", "align": "center", "baseline": "middle"},
             "encoding": {"x": {"field": "ax", "type": "quantitative", "scale": {"domain": [0, 1], "nice": false}, "axis": null}, "y": {"field": "ay", "type": "quantitative", "title": "EPSC Amplitude (%)", "scale": {"domain": [0, 250], "nice": false}}, "text": {"field": "label"}}},
            {"data": {"values": [{"ax": 0.036, "ay": 327, "label": "CaMKIV TG"}]}, "mark": {"type": "text", "fontSize": 14, "fontWeight": "bold", "align": "left", "baseline": "middle"},
             "encoding": {"x": {"field": "ax", "type": "quantitative", "scale": {"domain": [0, 1], "nice": false}, "axis": null}, "y": {"field": "ay", "type": "quantitative", "title": "EPSC Amplitude (%)", "scale": {"domain": [0, 250], "nice": false}}, "text": {"field": "label"}}}
          ]
        }
      ]
    },
    {
      "columns": 2, "align": "none", "spacing": 21,
      "resolve": {"scale": {"fill": "independent", "color": "independent", "xOffset": "independent"}, "legend": {"fill": "independent", "color": "independent"}},
      "concat": [
        {
          "width": 177.3, "height": 131,
          "layer": [
            {"data": {"name": "anisoTC"}, "transform": [{"filter": "datum.geno === 'CaMKIV TG'"}], "mark": {"type": "area", "interpolate": "linear", "opacity": 1},
             "encoding": {
               "x": {"field": "t", "type": "quantitative", "title": "Time post-induction (min)", "scale": {"domain": [-2.98, 30.65], "nice": false, "zero": false},
                     "axis": {"title": "Time post-induction (min)", "domain": false, "format": "d", "values": [0, 5, 10, 15, 20, 25, 30], "tickCount": 100, "tickSize": 5, "labelFontSize": 11, "labelPadding": 9.5, "offset": 2.6, "titlePadding": 7, "labelFlush": false, "labelOverlap": false}},
               "y": {"field": "v", "type": "quantitative", "title": "Aniso sensitive EPSC (%)", "stack": null, "scale": {"domain": [0, 100], "nice": false},
                     "axis": {"title": "Aniso sensitive EPSC (%)", "values": [0, 20, 40, 60, 80, 100], "tickCount": 100, "tickSize": 7, "labelPadding": 7, "offset": 1, "titlePadding": 13, "labelOverlap": false, "labelFontSize": 13}},
               "color": {"field": "geno", "type": "nominal", "scale": {"domain": ["Wild-type", "CaMKIV TG"], "range": ["#000000", "#808080"]},
                         "legend": {"title": null, "orient": "none", "legendX": 56, "legendY": -5, "symbolType": "M-2.6,-0.55H2.6V0.55H-2.6Z", "symbolSize": 100, "symbolStrokeWidth": 0, "symbolOpacity": 1, "labelOffset": 14, "rowPadding": 3.7}}
             }},
            {"data": {"name": "anisoTC"}, "transform": [{"filter": "datum.geno === 'Wild-type'"}], "mark": {"type": "area", "interpolate": "linear", "opacity": 1},
             "encoding": {
               "x": {"field": "t", "type": "quantitative", "title": "Time post-induction (min)", "scale": {"domain": [-2.98, 30.65], "nice": false, "zero": false}},
               "y": {"field": "v", "type": "quantitative", "title": "Aniso sensitive EPSC (%)", "stack": null, "scale": {"domain": [0, 100], "nice": false}},
               "color": {"field": "geno", "type": "nominal"}
             }},
            {"data": {"values": [{"t1": -0.65, "t2": 30.65, "v": -2.0}]}, "mark": {"type": "rule", "strokeWidth": 1.5, "color": "black"},
             "encoding": {"x": {"field": "t1", "type": "quantitative", "title": "Time post-induction (min)", "scale": {"domain": [-2.98, 30.65], "nice": false, "zero": false}}, "x2": {"field": "t2"}, "y": {"field": "v", "type": "quantitative", "title": "Aniso sensitive EPSC (%)", "scale": {"domain": [0, 100], "nice": false}}}},
            {"data": {"values": [{"t": -14.27, "v": 125.6, "label": "E"}]}, "mark": {"type": "text", "fontSize": 24, "fontWeight": "bold", "align": "center", "baseline": "middle"},
             "encoding": {"x": {"field": "t", "type": "quantitative", "title": "Time post-induction (min)", "scale": {"domain": [-2.98, 30.65], "nice": false, "zero": false}}, "y": {"field": "v", "type": "quantitative", "title": "Aniso sensitive EPSC (%)", "scale": {"domain": [0, 100], "nice": false}}, "text": {"field": "label"}}}
          ]
        },
        {
          "width": 149, "height": 134,
          "resolve": {"scale": {"x": "independent"}},
          "layer": [
            {
              "layer": [
                {"data": {"name": "anisoBars"}, "mark": {"type": "rule", "color": "black", "strokeWidth": 1.5},
                 "encoding": {"x": {"field": "period", "type": "nominal", "sort": null, "title": "Time post-induction (min)", "scale": {"domain": ["0-5", "15-20", "25-30"], "paddingInner": 0.397, "paddingOuter": 0.196, "align": 0.887}},
                              "xOffset": {"field": "geno", "type": "nominal", "sort": null, "scale": {"domain": ["Wild-type", "CaMKIV TG"], "paddingInner": 0.25, "paddingOuter": 0}},
                              "y": {"field": "mean", "type": "quantitative", "title": "Aniso sensitive EPSC (%)", "scale": {"domain": [0, 103.7], "nice": false}}, "y2": {"field": "err"}}},
                {"data": {"name": "anisoBars"}, "mark": {"type": "point", "shape": "stroke", "size": 49, "color": "black", "strokeWidth": 1.5, "opacity": 1},
                 "encoding": {"x": {"field": "period", "type": "nominal", "sort": null, "title": "Time post-induction (min)"}, "xOffset": {"field": "geno", "type": "nominal", "sort": null},
                              "y": {"field": "err", "type": "quantitative", "title": "Aniso sensitive EPSC (%)", "scale": {"domain": [0, 103.7], "nice": false}}}},
                {"data": {"name": "anisoBars"}, "mark": {"type": "bar", "stroke": "black", "strokeWidth": 1.5},
                 "encoding": {"x": {"field": "period", "type": "nominal", "sort": null, "title": "Time post-induction (min)", "axis": {"title": "Time post-induction (min)", "ticks": false, "tickSize": 0, "labelPadding": 11, "labelAngle": 0, "labelFontSize": 12, "titlePadding": 3}},
                              "xOffset": {"field": "geno", "type": "nominal", "sort": null},
                              "y": {"field": "mean", "type": "quantitative", "title": "Aniso sensitive EPSC (%)", "scale": {"domain": [0, 103.7], "nice": false}, "axis": {"title": "Aniso sensitive EPSC (%)", "values": [0, 20, 40, 60, 80, 100], "tickCount": 100, "tickSize": 7, "labelPadding": 6, "titlePadding": 12, "labelOverlap": false, "labelFontSize": 13}},
                              "fill": {"field": "geno", "type": "nominal", "scale": {"domain": ["Wild-type", "CaMKIV TG"], "range": ["#000000", "#b0b0b0"]},
                                       "legend": {"title": null, "orient": "none", "legendX": 43.8, "legendY": -6.2, "symbolType": "M-2.5,-0.5H2.5V0.5H-2.5Z", "symbolSize": 100, "symbolStrokeColor": "black", "symbolStrokeWidth": 1, "labelOffset": 15.2, "rowPadding": 5.4}}}},
                {"data": {"name": "anisoBars"}, "transform": [{"filter": "datum.sig !== ''"}], "mark": {"type": "text", "fontSize": 20, "dy": 5, "baseline": "alphabetic", "align": "center"},
                 "encoding": {"x": {"field": "period", "type": "nominal", "sort": null, "title": "Time post-induction (min)"}, "xOffset": {"field": "geno", "type": "nominal", "sort": null},
                              "y": {"field": "err", "type": "quantitative", "title": "Aniso sensitive EPSC (%)", "scale": {"domain": [0, 103.7], "nice": false}}, "text": {"field": "sig"}}}
              ]
            },
            {"data": {"values": [{"ax": -0.746, "ay": 129.6, "label": "F"}]}, "mark": {"type": "text", "fontSize": 24, "fontWeight": "bold", "align": "center", "baseline": "middle"},
             "encoding": {"x": {"field": "ax", "type": "quantitative", "scale": {"domain": [0, 1], "nice": false}, "axis": null}, "y": {"field": "ay", "type": "quantitative", "title": "Aniso sensitive EPSC (%)", "scale": {"domain": [0, 103.7], "nice": false}}, "text": {"field": "label"}}}
          ]
        }
      ]
    }
  ]
}
